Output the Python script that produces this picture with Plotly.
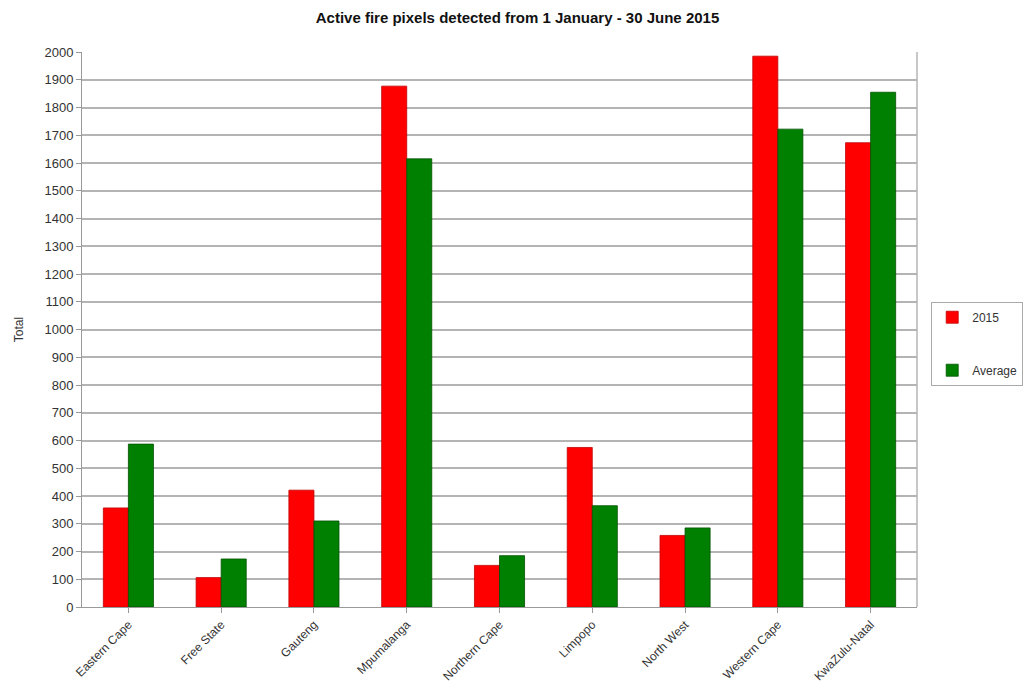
import plotly.graph_objects as go

provinces = ["Eastern Cape", "Free State", "Gauteng", "Mpumalanga", "Northern Cape",
             "Limpopo", "North West", "Western Cape", "KwaZulu-Natal"]
fires_2015 = [357, 106, 421, 1877, 150, 575, 258, 1985, 1673]
fires_avg = [587, 173, 310, 1615, 185, 365, 285, 1722, 1855]
y_ticks = list(range(0, 2001, 100))

RED = "#FF0000"
GREEN = "#008000"
GRIDC = "#B4B4B4"

fig = go.Figure()
fig.add_bar(name="2015", x=provinces, y=fires_2015, marker_color=RED,
            marker_line=dict(color="#C00000", width=0.8), legendgroup="a")
fig.add_bar(name="Average", x=provinces, y=fires_avg, marker_color=GREEN,
            marker_line=dict(color="#005000", width=0.8), legendgroup="b")

# the page body adds an 8px margin, so the figure is sized a bit under the window
fig.update_layout(
    width=1019, height=681,
    paper_bgcolor="white", plot_bgcolor="white",
    font=dict(family="Arial, Liberation Sans, sans-serif", color="#333333", size=12),
    margin=dict(l=74, r=110, t=44, b=82),
    barmode="group", bargap=0.46, bargroupgap=0,
    title=dict(text="<b>Active fire pixels detected from 1 January - 30 June 2015</b>",
               x=0.5, xanchor="center", y=0.986, yanchor="middle",
               font=dict(size=15, color="#111111")),
    showlegend=True,
    legend=dict(xref="container", yref="container", x=0.906, xanchor="left",
                y=0.507, yanchor="middle",
                bordercolor="#AAAAAA", borderwidth=1, bgcolor="white",
                font=dict(size=12), tracegroupgap=34, traceorder="grouped",
                itemwidth=30),
    xaxis=dict(tickangle=-45, tickfont=dict(size=12), showline=True,
               linecolor="#999999", ticks="outside", tickcolor="#999999",
               mirror=False, showgrid=False, automargin=False),
    yaxis=dict(range=[0, 2000], tickvals=y_ticks, tickfont=dict(size=13),
               showgrid=True, gridcolor=GRIDC, gridwidth=1.5,
               showline=True, linecolor="#999999", ticks="outside",
               tickcolor="#999999", ticklen=5, automargin=False,
               title=dict(text="Total", font=dict(size=12), standoff=18)),
)
fig.add_shape(type="line", xref="paper", yref="paper", x0=1, x1=1, y0=0, y1=1,
              line=dict(color=GRIDC, width=1.5))

fig.write_html("out.html")
